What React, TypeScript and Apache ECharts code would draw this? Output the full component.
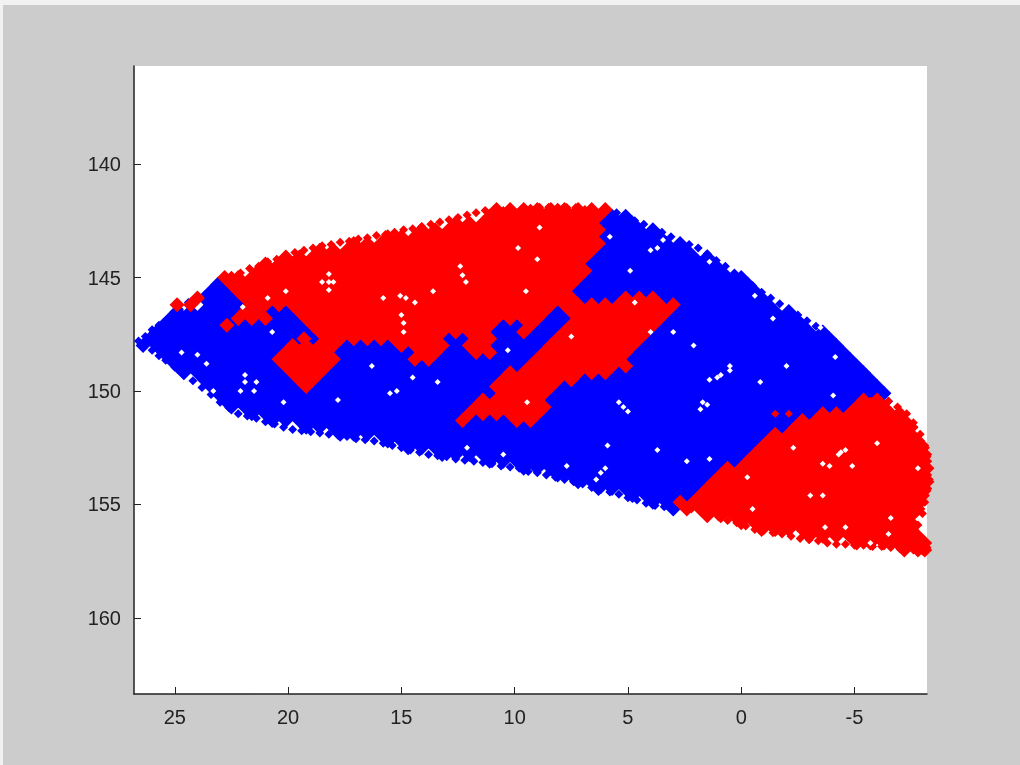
import React, { useEffect, useRef } from "react";
import * as echarts from "echarts";

const xTicks = [25, 20, 15, 10, 5, 0, -5];
const yTicks = [140, 145, 150, 155, 160];

type Row = [number, number[]];

const blueRows: Row[] = [
  [142.3, [5.7, 5.1]],
  [142.6, [6, 5.4, 4.8]],
  [142.9, [5.7, 5.1, 4.5, 3.9]],
  [143.2, [6, 5.4, 4.8, 4.2, 3.6]],
  [143.5, [5.7, 5.1, 4.5, 3.9, 3.3, 2.7]],
  [143.8, [6, 5.4, 4.8, 4.2, 3.6, 3, 2.4]],
  [144.1, [6.3, 5.7, 5.1, 4.5, 3.9, 3.3, 2.7, 2.1, 1.5]],
  [144.4, [6.6, 6, 5.4, 4.8, 4.2, 3.6, 3, 2.4, 1.8, 1.2]],
  [144.7, [6.3, 5.7, 5.1, 4.5, 3.9, 3.3, 2.7, 2.1, 1.5, 0.9]],
  [145, [6.6, 6, 5.4, 4.8, 4.2, 3.6, 3, 2.4, 1.8, 1.2, 0.6, 0]],
  [145.3, [23.1, 6.9, 6.3, 5.7, 5.1, 4.5, 3.9, 3.3, 2.7, 2.1, 1.5, 0.9, 0.3, -0.3]],
  [145.6, [23.4, 22.8, 7.2, 6.6, 6, 5.4, 4.8, 4.2, 3.6, 3, 2.4, 1.8, 1.2, 0.6, 0, -0.6]],
  [145.9, [23.7, 23.1, 22.5, 6.9, 6.3, 5.7, 3.3, 2.7, 2.1, 1.5, 0.9, 0.3, -0.3, -0.9]],
  [146.2, [23.4, 22.8, 22.2, 2.4, 1.8, 1.2, 0.6, 0, -0.6, -1.2]],
  [146.5, [24.9, 24.3, 23.7, 23.1, 22.5, 20.7, 20.1, 8.1, 2.7, 2.1, 1.5, 0.9, 0.3, -0.3, -0.9, -1.5, -2.1]],
  [146.8, [25.2, 24.6, 24, 23.4, 22.8, 20.4, 19.8, 8.4, 7.8, 3, 2.4, 1.8, 1.2, 0.6, 0, -0.6, -1.2, -1.8, -2.4]],
  [147.1, [25.5, 24.9, 24.3, 23.7, 23.1, 22.5, 21.9, 21.3, 20.7, 20.1, 19.5, 10.5, 9.9, 8.7, 8.1, 3.3, 2.7, 2.1, 1.5, 0.9, 0.3, -0.3, -0.9, -1.5, -2.1, -2.7]],
  [147.4, [25.8, 25.2, 24.6, 24, 23.4, 22.8, 22.2, 21.6, 21, 20.4, 19.8, 19.2, 10.8, 10.2, 9, 8.4, 3.6, 3, 2.4, 1.8, 1.2, 0.6, 0, -0.6, -1.2, -1.8, -2.4, -3, -3.6]],
  [147.7, [26.1, 25.5, 24.9, 24.3, 23.7, 23.1, 22.5, 21.9, 21.3, 20.7, 20.1, 19.5, 18.9, 12.9, 12.3, 10.5, 9.9, 9.3, 8.7, 3.9, 3.3, 2.7, 2.1, 1.5, 0.9, 0.3, -0.3, -0.9, -1.5, -2.1, -2.7, -3.3, -3.9]],
  [148, [26.4, 25.8, 25.2, 24.6, 24, 23.4, 22.8, 22.2, 21.6, 21, 20.4, 17.4, 16.8, 16.2, 15.6, 12.6, 10.8, 10.2, 9.6, 9, 4.2, 3.6, 3, 2.4, 1.8, 1.2, 0.6, 0, -0.6, -1.2, -1.8, -2.4, -3, -3.6, -4.2]],
  [148.3, [25.5, 24.9, 24.3, 23.7, 23.1, 22.5, 21.9, 21.3, 20.7, 17.7, 17.1, 16.5, 15.9, 15.3, 14.7, 12.9, 12.3, 10.5, 9.9, 9.3, 4.5, 3.9, 3.3, 2.7, 2.1, 1.5, 0.9, 0.3, -0.3, -0.9, -1.5, -2.1, -2.7, -3.3, -3.9, -4.5]],
  [148.6, [25.2, 24.6, 24, 23.4, 22.8, 22.2, 21.6, 21, 17.4, 16.8, 16.2, 15.6, 15, 13.2, 12.6, 12, 11.4, 10.8, 10.2, 9.6, 4.8, 4.2, 3.6, 3, 2.4, 1.8, 1.2, 0.6, 0, -0.6, -1.2, -1.8, -2.4, -3, -3.6, -4.2, -4.8]],
  [148.9, [24.9, 24.3, 23.7, 23.1, 22.5, 21.9, 21.3, 20.7, 17.7, 17.1, 16.5, 15.9, 15.3, 14.7, 14.1, 13.5, 12.9, 12.3, 11.7, 11.1, 10.5, 9.9, 4.5, 3.9, 3.3, 2.7, 2.1, 1.5, 0.9, 0.3, -0.3, -0.9, -1.5, -2.1, -2.7, -3.3, -3.9, -4.5, -5.1]],
  [149.2, [24.6, 24, 23.4, 22.8, 22.2, 21.6, 21, 20.4, 18, 17.4, 16.8, 16.2, 15.6, 15, 14.4, 13.8, 13.2, 12.6, 12, 11.4, 10.8, 5.4, 4.8, 4.2, 3.6, 3, 2.4, 1.8, 1.2, 0.6, 0, -0.6, -1.2, -1.8, -2.4, -3, -3.6, -4.2, -4.8, -5.4]],
  [149.5, [23.7, 23.1, 22.5, 21.9, 21.3, 20.7, 20.1, 18.3, 17.7, 17.1, 16.5, 15.9, 15.3, 14.7, 14.1, 13.5, 12.9, 12.3, 11.7, 11.1, 6.9, 6.3, 5.7, 5.1, 4.5, 3.9, 3.3, 2.7, 2.1, 1.5, 0.9, 0.3, -0.3, -0.9, -1.5, -2.1, -2.7, -3.3, -3.9, -4.5, -5.1, -5.7]],
  [149.8, [23.4, 22.8, 22.2, 21.6, 21, 20.4, 19.8, 18.6, 18, 17.4, 16.8, 16.2, 15.6, 15, 14.4, 13.8, 13.2, 12.6, 12, 11.4, 7.8, 7.2, 6.6, 6, 5.4, 4.8, 4.2, 3.6, 3, 2.4, 1.8, 1.2, 0.6, 0, -0.6, -1.2, -1.8, -2.4, -3, -3.6, -4.2, -4.8, -5.4, -6]],
  [150.1, [23.1, 22.5, 21.9, 21.3, 20.7, 20.1, 19.5, 18.9, 18.3, 17.7, 17.1, 16.5, 15.9, 15.3, 14.7, 14.1, 13.5, 12.9, 12.3, 11.7, 11.1, 8.1, 7.5, 6.9, 6.3, 5.7, 5.1, 4.5, 3.9, 3.3, 2.7, 2.1, 1.5, 0.9, 0.3, -0.3, -0.9, -1.5, -2.1, -2.7, -3.3, -3.9, -4.5, -5.1, -5.7, -6.3]],
  [150.4, [22.8, 22.2, 21.6, 21, 20.4, 19.8, 19.2, 18.6, 18, 17.4, 16.8, 16.2, 15.6, 15, 14.4, 13.8, 13.2, 12.6, 12, 8.4, 7.8, 7.2, 6.6, 6, 5.4, 4.8, 4.2, 3.6, 3, 2.4, 1.8, 1.2, 0.6, 0, -0.6, -1.2, -1.8, -2.4, -3, -3.6, -4.2, -4.8]],
  [150.7, [22.5, 21.9, 21.3, 20.7, 20.1, 19.5, 18.9, 18.3, 17.7, 17.1, 16.5, 15.9, 15.3, 14.7, 14.1, 13.5, 12.9, 12.3, 8.1, 7.5, 6.9, 6.3, 5.7, 5.1, 4.5, 3.9, 3.3, 2.7, 2.1, 1.5, 0.9, 0.3, -0.3, -0.9, -1.5, -2.1, -2.7, -3.3, -3.9, -4.5]],
  [151, [21.6, 21, 20.4, 19.8, 19.2, 18.6, 18, 17.4, 16.8, 16.2, 15.6, 15, 14.4, 13.8, 13.2, 12.6, 8.4, 7.8, 7.2, 6.6, 6, 5.4, 4.8, 4.2, 3.6, 3, 2.4, 1.8, 1.2, 0.6, 0, -0.6, -1.2, -1.8, -2.4, -3]],
  [151.3, [20.7, 20.1, 19.5, 18.9, 18.3, 17.7, 17.1, 16.5, 15.9, 15.3, 14.7, 14.1, 13.5, 12.9, 11.7, 11.1, 10.5, 8.7, 8.1, 7.5, 6.9, 6.3, 5.7, 5.1, 4.5, 3.9, 3.3, 2.7, 2.1, 1.5, 0.9, 0.3, -0.3, -0.9, -1.5, -2.1]],
  [151.6, [19.2, 18.6, 18, 17.4, 16.8, 16.2, 15.6, 15, 14.4, 13.8, 13.2, 12.6, 12, 11.4, 10.8, 10.2, 9.6, 9, 8.4, 7.8, 7.2, 6.6, 6, 5.4, 4.8, 4.2, 3.6, 3, 2.4, 1.8, 1.2, 0.6, 0, -0.6, -1.2, -1.8]],
  [151.9, [17.7, 17.1, 16.5, 15.9, 15.3, 14.7, 14.1, 13.5, 12.9, 12.3, 11.7, 11.1, 10.5, 9.9, 9.3, 8.7, 8.1, 7.5, 6.9, 6.3, 5.7, 5.1, 4.5, 3.9, 3.3, 2.7, 2.1, 1.5, 0.9, 0.3, -0.3, -0.9]],
  [152.2, [15.6, 15, 14.4, 13.8, 13.2, 12.6, 12, 11.4, 10.8, 10.2, 9.6, 9, 8.4, 7.8, 7.2, 6.6, 6, 5.4, 4.8, 4.2, 3.6, 3, 2.4, 1.8, 1.2, 0.6, 0, -0.6]],
  [152.5, [14.7, 14.1, 13.5, 12.9, 12.3, 11.7, 11.1, 10.5, 9.9, 9.3, 8.7, 8.1, 7.5, 6.9, 6.3, 5.7, 5.1, 4.5, 3.9, 3.3, 2.7, 2.1, 1.5, 0.9, 0.3, -0.3]],
  [152.8, [13.2, 12.6, 12, 11.4, 10.8, 10.2, 9.6, 9, 8.4, 7.8, 7.2, 6.6, 6, 5.4, 4.8, 4.2, 3.6, 3, 2.4, 1.8, 1.2, 0.6, 0]],
  [153.1, [11.1, 10.5, 9.9, 9.3, 8.7, 8.1, 7.5, 6.9, 6.3, 5.7, 5.1, 4.5, 3.9, 3.3, 2.7, 2.1, 1.5, 0.9, 0.3]],
  [153.4, [9.6, 9, 8.4, 7.8, 7.2, 6.6, 6, 5.4, 4.8, 4.2, 3.6, 3, 2.4, 1.8, 1.2]],
  [153.7, [8.1, 7.5, 6.9, 6.3, 5.7, 5.1, 4.5, 3.9, 3.3, 2.7, 2.1, 1.5]],
  [154, [7.2, 6.6, 6, 5.4, 4.8, 4.2, 3.6, 3, 2.4, 1.8]],
  [154.3, [6.3, 5.7, 5.1, 4.5, 3.9, 3.3, 2.7, 2.1]],
  [154.6, [4.8, 4.2, 3.6, 3, 2.4]],
  [154.9, [3.9, 3.3]],
  [155.2, [3]],
];

const redRows: Row[] = [
  [142, [10.8, 10.2, 9.6, 9, 8.4, 7.8, 7.2, 6.6, 6]],
  [142.3, [11.1, 10.5, 9.9, 9.3, 8.7, 8.1, 7.5, 6.9, 6.3]],
  [142.6, [12.6, 12, 11.4, 10.8, 10.2, 9.6, 9, 8.4, 7.8, 7.2, 6.6]],
  [142.9, [14.1, 13.5, 12.9, 12.3, 11.7, 11.1, 10.5, 9.9, 9.3, 8.7, 8.1, 7.5, 6.9, 6.3]],
  [143.2, [15.6, 15, 14.4, 13.8, 13.2, 12.6, 12, 11.4, 10.8, 10.2, 9.6, 9, 8.4, 7.8, 7.2, 6.6]],
  [143.5, [17.1, 16.5, 15.9, 15.3, 14.7, 14.1, 13.5, 12.9, 12.3, 11.7, 11.1, 10.5, 9.9, 9.3, 8.7, 8.1, 7.5, 6.9, 6.3]],
  [143.8, [18.6, 18, 17.4, 16.8, 16.2, 15.6, 15, 14.4, 13.8, 13.2, 12.6, 12, 11.4, 10.8, 10.2, 9.6, 9, 8.4, 7.8, 7.2, 6.6]],
  [144.1, [20.1, 19.5, 18.9, 18.3, 17.7, 17.1, 16.5, 15.9, 15.3, 14.7, 14.1, 13.5, 12.9, 12.3, 11.7, 11.1, 10.5, 9.9, 9.3, 8.7, 8.1, 7.5, 6.9]],
  [144.4, [21, 20.4, 19.8, 19.2, 18.6, 18, 17.4, 16.8, 16.2, 15.6, 15, 14.4, 13.8, 13.2, 12.6, 12, 11.4, 10.8, 10.2, 9.6, 9, 8.4, 7.8, 7.2]],
  [144.7, [21.3, 20.7, 20.1, 19.5, 18.9, 18.3, 17.7, 17.1, 16.5, 15.9, 15.3, 14.7, 14.1, 13.5, 12.9, 12.3, 11.7, 11.1, 10.5, 9.9, 9.3, 8.7, 8.1, 7.5, 6.9]],
  [145, [22.8, 22.2, 21.6, 21, 20.4, 19.8, 19.2, 18.6, 18, 17.4, 16.8, 16.2, 15.6, 15, 14.4, 13.8, 13.2, 12.6, 12, 11.4, 10.8, 10.2, 9.6, 9, 8.4, 7.8, 7.2]],
  [145.3, [22.5, 21.9, 21.3, 20.7, 20.1, 19.5, 18.9, 18.3, 17.7, 17.1, 16.5, 15.9, 15.3, 14.7, 14.1, 13.5, 12.9, 12.3, 11.7, 11.1, 10.5, 9.9, 9.3, 8.7, 8.1, 7.5]],
  [145.6, [22.2, 21.6, 21, 20.4, 19.8, 19.2, 18.6, 18, 17.4, 16.8, 16.2, 15.6, 15, 14.4, 13.8, 13.2, 12.6, 12, 11.4, 10.8, 10.2, 9.6, 9, 8.4, 7.8]],
  [145.9, [24, 21.9, 21.3, 20.7, 20.1, 19.5, 18.9, 18.3, 17.7, 17.1, 16.5, 15.9, 15.3, 14.7, 14.1, 13.5, 12.9, 12.3, 11.7, 11.1, 10.5, 9.9, 9.3, 8.7, 8.1, 7.5, 5.1, 4.5, 3.9]],
  [146.2, [24.9, 24.3, 21.6, 21, 20.4, 19.8, 19.2, 18.6, 18, 17.4, 16.8, 16.2, 15.6, 15, 14.4, 13.8, 13.2, 12.6, 12, 11.4, 10.8, 10.2, 9.6, 9, 8.4, 7.8, 7.2, 6.6, 6, 5.4, 4.8, 4.2, 3.6, 3]],
  [146.5, [21.9, 21.3, 19.5, 18.9, 18.3, 17.7, 17.1, 16.5, 15.9, 15.3, 14.7, 14.1, 13.5, 12.9, 12.3, 11.7, 11.1, 10.5, 9.9, 9.3, 8.7, 7.5, 6.9, 6.3, 5.7, 5.1, 4.5, 3.9, 3.3]],
  [146.8, [22.2, 21.6, 21, 19.2, 18.6, 18, 17.4, 16.8, 16.2, 15.6, 15, 14.4, 13.8, 13.2, 12.6, 12, 11.4, 10.8, 10.2, 9.6, 9, 7.2, 6.6, 6, 5.4, 4.8, 4.2, 3.6]],
  [147.1, [22.7, 18.9, 18.3, 17.7, 17.1, 16.5, 15.9, 15.3, 14.7, 14.1, 13.5, 12.9, 12.3, 11.7, 11.1, 9.3, 7.5, 6.9, 6.3, 5.7, 5.1, 4.5, 3.9]],
  [147.4, [18.6, 18, 17.4, 16.8, 16.2, 15.6, 15, 14.4, 13.8, 13.2, 12.6, 12, 11.4, 9.6, 7.8, 7.2, 6.6, 6, 5.4, 4.8, 4.2]],
  [147.7, [19.3, 18.3, 17.7, 17.1, 16.5, 15.9, 15.3, 14.7, 14.1, 13.5, 11.7, 11.1, 8.1, 7.5, 6.9, 6.3, 5.7, 5.1, 4.5]],
  [148, [19.8, 19.2, 18.6, 18, 15, 14.4, 13.8, 13.2, 12, 11.4, 8.4, 7.8, 7.2, 6.6, 6, 5.4, 4.8]],
  [148.3, [20.1, 19.5, 18.9, 18.3, 14.1, 13.5, 11.7, 11.1, 8.7, 8.1, 7.5, 6.9, 6.3, 5.7, 5.1]],
  [148.6, [20.4, 19.8, 19.2, 18.6, 18, 14.4, 13.8, 9, 8.4, 7.8, 7.2, 6.6, 6, 5.4]],
  [148.9, [20.1, 19.5, 18.9, 18.3, 9.3, 8.7, 8.1, 7.5, 6.9, 6.3, 5.7, 5.1]],
  [149.2, [19.8, 19.2, 18.6, 10.2, 9.6, 9, 8.4, 7.8, 7.2, 6.6, 6]],
  [149.5, [19.5, 18.9, 10.5, 9.9, 9.3, 8.7, 8.1, 7.5]],
  [149.8, [19.2, 10.8, 10.2, 9.6, 9, 8.4]],
  [150.1, [10.5, 9.9, 9.3, 8.7]],
  [150.4, [11.4, 10.8, 10.2, 9.6, 9, -5.4, -6]],
  [150.7, [11.7, 11.1, 10.5, 9.9, 9.3, 8.7, -5.1, -5.7, -6.3]],
  [151, [12, 11.4, 10.8, 10.2, 9.6, 9, -3.6, -4.2, -4.8, -5.4, -6, -6.6, -7]],
  [151.3, [12.3, 9.9, 9.3, -2.7, -3.3, -3.9, -4.5, -5.1, -5.7, -6.3, -6.9, -7.2]],
  [151.6, [-2.4, -3, -3.6, -4.2, -4.8, -5.4, -6, -6.6, -7.2, -7.5]],
  [151.9, [-1.5, -2.1, -2.7, -3.3, -3.9, -4.5, -5.1, -5.7, -6.3, -6.9, -7.5]],
  [152.2, [-1.2, -1.8, -2.4, -3, -3.6, -4.2, -4.8, -5.4, -6, -6.6, -7.2, -7.8]],
  [152.5, [-0.9, -1.5, -2.1, -2.7, -3.3, -3.9, -4.5, -5.1, -5.7, -6.3, -6.9, -7.5, -8]],
  [152.8, [-0.6, -1.2, -1.8, -2.4, -3, -3.6, -4.2, -4.8, -5.4, -6, -6.6, -7.2, -7.8, -8.1]],
  [153.1, [-0.3, -0.9, -1.5, -2.1, -2.7, -3.3, -3.9, -4.5, -5.1, -5.7, -6.3, -6.9, -7.5, -8.1]],
  [153.4, [0.6, 0, -0.6, -1.2, -1.8, -2.4, -3, -3.6, -4.2, -4.8, -5.4, -6, -6.6, -7.2, -7.8, -8.2]],
  [153.7, [0.9, 0.3, -0.3, -0.9, -1.5, -2.1, -2.7, -3.3, -3.9, -4.5, -5.1, -5.7, -6.3, -6.9, -7.5, -8.1]],
  [154, [1.2, 0.6, 0, -0.6, -1.2, -1.8, -2.4, -3, -3.6, -4.2, -4.8, -5.4, -6, -6.6, -7.2, -7.8, -8.2]],
  [154.3, [1.5, 0.9, 0.3, -0.3, -0.9, -1.5, -2.1, -2.7, -3.3, -3.9, -4.5, -5.1, -5.7, -6.3, -6.9, -7.5, -8.1]],
  [154.6, [1.8, 1.2, 0.6, 0, -0.6, -1.2, -1.8, -2.4, -3, -3.6, -4.2, -4.8, -5.4, -6, -6.6, -7.2, -7.8, -8]],
  [154.9, [2.7, 2.1, 1.5, 0.9, 0.3, -0.3, -0.9, -1.5, -2.1, -2.7, -3.3, -3.9, -4.5, -5.1, -5.7, -6.3, -6.9, -7.5, -7.9]],
  [155.2, [2.4, 1.8, 1.2, 0.6, 0, -0.6, -1.2, -1.8, -2.4, -3, -3.6, -4.2, -4.8, -5.4, -6, -6.6, -7.2, -7.8]],
  [155.5, [1.5, 0.9, 0.3, -0.3, -0.9, -1.5, -2.1, -2.7, -3.3, -3.9, -4.5, -5.1, -5.7, -6.3, -6.9, -7.5]],
  [155.8, [0, -0.6, -1.2, -1.8, -2.4, -3, -3.6, -4.2, -4.8, -5.4, -6, -6.6, -7.2, -7.5]],
  [156.1, [-0.9, -1.5, -2.1, -2.7, -3.3, -3.9, -4.5, -5.1, -5.7, -6.3, -6.9, -7.5]],
  [156.4, [-3, -3.6, -4.2, -4.8, -5.4, -6, -6.6, -7.2, -7.8]],
  [156.7, [-5.1, -5.7, -6.3, -6.9, -7.5, -8.1]],
  [157, [-7.2, -7.8, -8.1]],
];

// smaller markers along the rim of the cloud
const blueEdgeX = [26.6, 26.3, 26, 25.7, 25.4, 25.1, 24.8, 24.4, 5.9, 5.5, 5.1, 4.7, 4.3, 3.9, 3.5, 3.1, 2.7, 2.3, 1.9, 1.5, 1.1, 0.7, 0.3, -0.1, -0.5, -0.9, -1.3, -1.7, -2.1, -2.5, -2.9, -3.3, -3.7, -4.1, -4.5, -4.9, -5.3, -5.7, -6.1, -6.5, -6.9, 26.3, 26, 25.7, 25.4, 25, 24.6, 24.2, 23.8, 23.4, 23, 22.6, 22.2, 21.8, 21.4, 21, 20.6, 20.2, 19.8, 19.4, 19, 18.6, 18.2, 17.8, 17.4, 17, 16.6, 16.2, 15.8, 15.4, 15, 14.6, 14.2, 13.8, 13.4, 13, 12.6, 12.2, 11.8, 11.4, 11, 10.6, 10.2, 9.8, 9.4, 9, 8.6, 8.2, 7.8, 7.4, 7, 6.6, 6.2, 5.8, 5.4, 5, 4.6, 4.2, 3.8, 3.4];
const blueEdgeY = [147.8, 147.6, 147.3, 147.1, 146.9, 146.6, 146.4, 146.1, 142.15, 142.15, 142.35, 142.5, 142.65, 142.85, 143, 143.2, 143.4, 143.55, 143.7, 143.95, 144.25, 144.5, 144.8, 145.1, 145.35, 145.65, 145.9, 146.15, 146.4, 146.65, 146.9, 147.15, 147.5, 147.85, 148.25, 148.65, 149.05, 149.5, 150, 150.45, 150.95, 148, 148.2, 148.45, 148.65, 148.95, 149.25, 149.55, 149.85, 150.15, 150.5, 150.75, 151, 151.1, 151.2, 151.35, 151.45, 151.6, 151.7, 151.75, 151.8, 151.85, 151.9, 151.95, 152, 152.1, 152.15, 152.2, 152.3, 152.4, 152.5, 152.6, 152.7, 152.8, 152.85, 152.9, 153, 153.05, 153.1, 153.15, 153.2, 153.3, 153.35, 153.4, 153.55, 153.6, 153.7, 153.8, 153.9, 154, 154.1, 154.25, 154.35, 154.45, 154.55, 154.7, 154.8, 154.95, 155.05, 155.1];

const redEdgeX = [22.5, 22.1, 21.7, 21.3, 20.9, 20.5, 20.1, 19.7, 19.3, 18.9, 18.5, 18.1, 17.7, 17.3, 16.9, 16.5, 16.1, 15.7, 15.3, 14.9, 14.5, 14.1, 13.7, 13.3, 12.9, 12.5, 12.1, 11.7, 11.3, 10.9, 10.5, 10.1, 9.7, 9.3, 8.9, 8.5, 8.1, 7.7, 7.3, 6.9, 6.5, -5.3, -5.7, -6.1, -6.5, -6.9, -7.3, -7.6, -7.9, -8.1, -8.2, -8.25, -8.3, -8.2, -8.1, -8, -7.8, -7.7, -8, -8.2, -8, -7.6, 2.6, 2.2, 1.8, 1.4, 1, 0.6, 0.2, -0.2, -0.6, -1, -1.4, -1.8, -2.2, -2.6, -3, -3.4, -3.8, -4.2, -4.6, -5, -5.4, -5.8, -6.2, -6.6, -7];
const redEdgeY = [144.9, 144.8, 144.6, 144.5, 144.3, 144.2, 144, 143.9, 143.8, 143.7, 143.6, 143.55, 143.45, 143.4, 143.3, 143.25, 143.15, 143.1, 143, 142.9, 142.85, 142.75, 142.65, 142.55, 142.45, 142.35, 142.25, 142.15, 142.05, 142.05, 142.05, 142, 142, 141.95, 141.9, 141.9, 141.9, 141.92, 141.92, 142, 142.05, 150.45, 150.45, 150.45, 150.45, 150.7, 151, 151.4, 151.9, 152.4, 152.9, 153.4, 153.9, 154.4, 154.9, 155.4, 155.9, 156.2, 156.5, 156.9, 157.05, 157, 155.1, 155.2, 155.3, 155.45, 155.55, 155.7, 155.8, 155.95, 156.1, 156.15, 156.25, 156.3, 156.4, 156.5, 156.55, 156.6, 156.7, 156.75, 156.75, 156.8, 156.8, 156.85, 156.85, 156.9, 156.95];

const redSpotX = [-1.5, -2.1];
const redSpotY = [151, 151];

// white holes in the cloud
const gapX = [18.2, 21.9, 21.4, 23.3, 24, 24.7, 23.6, 20.2, 17.8, 16.3, 15.5, 20.7, 15.8, 20.1, 20.9, 22, 14.8, 12.3, 14.9, 9.85, 8.9, 9, 10.3, 14.5, 13.4, 15.2, 5.2, 5.9, 6.2, 3.7, 10.5, 12.1, 7.7, 3.7, 5.8, 4.9, 3, 4, 7.5, 9.5, 13.6, 9.45, 4.7, 2.1, 0.5, 1.06, 1.7, -0.6, 1.4, -1.4, -3.5, -4.15, -2, -4.06, -0.84, 2.4, 1.4, -4.4, -3.6, -2.3, -0.27, -3.05, -3.6, -0.5, -3.7, -4.6, -6.6, -6.5, -7.8, -6, -5.7, -4.9, 1.8, 1.5, 1.4, 0.9, 0.5, -3.9, -4.3, -4.6, 21.9, 22.1, 21.5, 18.5, 18, 18.2, 18.2, 12.4, 12.15, 15.05, 14.4, 15, 14.9, 5.4, 5, 6.4, 6, 4, 3.45];
const gapY = [145.2, 149.6, 149.6, 150, 148.4, 148.3, 148.8, 150.5, 150.4, 148.9, 150.1, 147.4, 145.9, 145.6, 145.9, 146.3, 145.9, 144.9, 147, 143.7, 142.8, 144.2, 148.2, 149.4, 149.6, 150, 150.7, 152.4, 153.6, 152.6, 152.8, 152.5, 153.3, 143.7, 143.2, 144.7, 147.4, 147.4, 147.6, 145.6, 145.6, 150.5, 146.1, 148, 148.9, 149.4, 150.5, 145.8, 144.3, 146.8, 147.2, 148.5, 148.9, 150.2, 149.6, 153.1, 153, 152.7, 153.2, 152.5, 153.8, 154.6, 154.6, 155.2, 156, 156, 155.6, 156.3, 153.4, 152.3, 156.7, 153.3, 150.8, 150.6, 149.5, 149.3, 149.1, 153.3, 152.8, 152.6, 149.3, 150, 150, 145.2, 145.2, 144.85, 145.55, 144.5, 145.2, 145.8, 146.1, 146.65, 147.4, 150.5, 150.9, 153.9, 153.4, 143.8, 143.35];

const toPoints = (rows: Row[]) => rows.flatMap(([y, xs]) => xs.map((x) => [x, y]));
const zip = (xs: number[], ys: number[]) => xs.map((x, i) => [x, ys[i]]);

export default function App() {
  const ref = useRef<HTMLDivElement>(null);
  useEffect(() => {
    const chart = echarts.init(ref.current!, null, { renderer: "svg" });
    const scatter = (data: number[][], color: string, size: number) => ({
      type: "scatter",
      data,
      symbol: "diamond",
      symbolSize: size,
      clip: false,
      silent: true,
      itemStyle: { color, opacity: 1 },
    });
    const axisText = { color: "#222", fontFamily: "Liberation Sans", fontSize: 20 };
    chart.setOption({
      animation: false,
      backgroundColor: "#cccccc",
      grid: { show: true, left: 131, top: 61, width: 793, height: 628, backgroundColor: "#fff", borderWidth: 0 },
      xAxis: {
        type: "value",
        inverse: true,
        min: -8.2,
        max: 26.8,
        position: "bottom",
        splitLine: { show: false },
        axisLine: { onZero: false, lineStyle: { color: "#222", width: 1.5 } },
        axisTick: { inside: true, length: 7, lineStyle: { color: "#222" }, customValues: xTicks },
        axisLabel: { ...axisText, margin: 13, customValues: xTicks },
      },
      yAxis: {
        type: "value",
        inverse: true,
        min: 135.68,
        max: 163.35,
        position: "left",
        splitLine: { show: false },
        axisLine: { onZero: false, lineStyle: { color: "#222", width: 1.5 } },
        axisTick: { inside: true, length: 7, lineStyle: { color: "#222" }, customValues: yTicks },
        axisLabel: { ...axisText, margin: 13, customValues: yTicks },
      },
      series: [
        scatter(toPoints(blueRows), "#0000ff", 15),
        scatter(zip(blueEdgeX, blueEdgeY), "#0000ff", 9),
        scatter(toPoints(redRows), "#ff0000", 15),
        scatter(zip(redEdgeX, redEdgeY), "#ff0000", 9),
        scatter(zip(redSpotX, redSpotY), "#ff0000", 8),
        scatter(zip(gapX, gapY), "#ffffff", 6),
      ],
    });
    return () => chart.dispose();
  }, []);
  return (
    <div style={{ position: "fixed", left: 0, top: 0, width: 1020, height: 765, background: "#f2f2f2", overflow: "hidden" }}>
      <div ref={ref} style={{ position: "absolute", left: 3, top: 5, width: 1017, height: 760, filter: "blur(0.5px)" }} />
    </div>
  );
}
